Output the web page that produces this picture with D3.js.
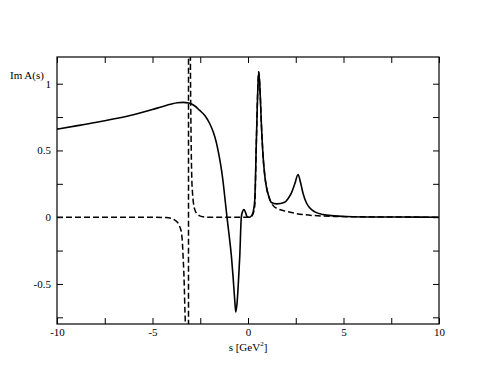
<!DOCTYPE html>
<html>
<head>
<meta charset="utf-8">
<script src="https://cdn.jsdelivr.net/npm/d3@7"></script>
<style>
  body { margin: 0; background: #fff; }
  svg text { font-family: "Liberation Serif", "Times New Roman", Times, serif; font-size: 11px; fill: #000; }
</style>
</head>
<body>
<div id="chart"></div>
<script>
// solid curve: Im A(s)
const solidS = [-10, -9, -8, -7, -6, -5, -4.5, -4, -3.7, -3.4, -3.1, -2.8, -2.53, -2.25, -2.0, -1.8, -1.65, -1.5, -1.39, -1.3, -1.22, -1.1, -1.0, -0.87, -0.78, -0.70, -0.64, -0.57, -0.5, -0.43, -0.35, -0.28, -0.21, -0.14, -0.07, 0, 0.12, 0.25, 0.35, 0.44, 0.5, 0.56, 0.62, 0.7, 0.79, 0.88, 0.96, 1.1, 1.22, 1.5, 1.92, 2.1, 2.27, 2.45, 2.62, 2.75, 2.88, 3.05, 3.23, 3.5, 3.92, 4.5, 5.1, 6, 8, 10];
const solidV = [0.66, 0.684, 0.709, 0.737, 0.768, 0.806, 0.828, 0.848, 0.857, 0.86, 0.855, 0.835, 0.80, 0.76, 0.70, 0.63, 0.555, 0.45, 0.356, 0.26, 0.157, 0.0, -0.12, -0.29, -0.45, -0.61, -0.71, -0.64, -0.48, -0.29, 0.0, 0.045, 0.057, 0.04, 0.01, 0.0, 0.002, 0.03, 0.12, 0.58, 0.9, 1.09, 0.98, 0.7, 0.455, 0.31, 0.23, 0.15, 0.11, 0.1, 0.112, 0.14, 0.18, 0.25, 0.32, 0.26, 0.18, 0.11, 0.07, 0.04, 0.02, 0.01, 0.005, 0.002, 0.001, 0];

// dashed curve (pole near s = -3.1)
const dashS = [-10, -5, -4.3, -4.0, -3.8, -3.66, -3.55, -3.48, -3.43, -3.40, -3.35, -3.31, -3.27, -3.12, -3.11, -3.02, -2.98, -2.95, -2.90, -2.85, -2.78, -2.70, -2.55, -2.35, -2.0, 0, 0.15, 0.25, 0.35, 0.44, 0.5, 0.56, 0.62, 0.7, 0.79, 0.88, 0.96, 1.1, 1.3, 1.6, 2.0, 2.5, 3.0, 3.5, 4.5, 6, 8, 10];
const dashV = [0, 0, -0.003, -0.01, -0.025, -0.045, -0.08, -0.12, -0.2, -0.29, -0.45, -0.66, -0.9, -6, 6, 1.3, 0.6, 0.33, 0.17, 0.1, 0.055, 0.03, 0.012, 0.003, 0, 0, 0.002, 0.02, 0.08, 0.58, 0.9, 1.09, 0.98, 0.7, 0.455, 0.31, 0.23, 0.15, 0.09, 0.06, 0.045, 0.028, 0.018, 0.012, 0.006, 0.003, 0.001, 0];

const xMajor = [-10, -5, 0, 5, 10];
const xMinor = [-7.5, -2.5, 2.5, 7.5];
const yMajor = [-0.5, 0, 0.5, 1];
const yMinor = [-0.75, -0.25, 0.25, 0.75];

const W = 494, H = 382;
const margin = {top: 57, right: 55, bottom: 58, left: 57};
const width = W - margin.left - margin.right;
const height = H - margin.top - margin.bottom;
const serif = "'Liberation Serif', 'Times New Roman', Times, serif";

const svg = d3.select("#chart").append("svg")
    .attr("width", W)
    .attr("height", H);

const g = svg.append("g")
    .attr("transform", "translate(" + margin.left + "," + margin.top + ")");

const x = d3.scaleLinear().domain([-10, 10]).range([0, width]);
const y = d3.scaleLinear().domain([-0.8, 1.2]).range([height, 0]);

g.append("defs").append("clipPath")
    .attr("id", "clip")
  .append("rect")
    .attr("width", width)
    .attr("height", height);

const line = d3.line()
    .x(d => x(d[0]))
    .y(d => y(d[1]))
    .curve(d3.curveMonotoneX);

const solid = solidS.map((s, i) => [s, solidV[i]]);
const dashed = dashS.map((s, i) => [s, dashV[i]]);

g.append("path")
    .datum(dashed)
    .attr("clip-path", "url(#clip)")
    .attr("fill", "none")
    .attr("stroke", "#000")
    .attr("stroke-width", 1.5)
    .attr("stroke-dasharray", "6,3")
    .attr("d", line);

g.append("path")
    .datum(solid)
    .attr("clip-path", "url(#clip)")
    .attr("fill", "none")
    .attr("stroke", "#000")
    .attr("stroke-width", 1.6)
    .attr("d", line);

// axes with inward ticks on all four sides
function ticks(axis, vals, size) {
    return axis.tickValues(vals).tickSizeInner(-size).tickSizeOuter(0);
}

g.append("g").attr("transform", "translate(0," + height + ")")
    .call(ticks(d3.axisBottom(x), xMajor, 6).tickFormat(d => String(d)).tickPadding(4));
g.append("g").attr("transform", "translate(0," + height + ")")
    .call(ticks(d3.axisBottom(x), xMinor, 6).tickFormat(""));
g.append("g").call(ticks(d3.axisTop(x), xMajor.concat(xMinor), 6).tickFormat(""));

g.append("g").call(ticks(d3.axisLeft(y), yMajor, 6).tickFormat(d => String(d)).tickPadding(6));
g.append("g").call(ticks(d3.axisLeft(y), yMinor, 6).tickFormat(""));
g.append("g").attr("transform", "translate(" + width + ",0)")
    .call(ticks(d3.axisRight(y), yMajor.concat(yMinor), 6).tickFormat(""));

g.selectAll(".domain").remove();
g.selectAll(".tick line").attr("stroke", "#000");
g.selectAll("g").attr("font-family", serif).attr("font-size", 11);
g.selectAll(".tick text")
    .attr("font-family", serif)
    .style("font-family", serif)
    .style("font-size", "11px");

g.append("rect")
    .attr("width", width)
    .attr("height", height)
    .attr("fill", "none")
    .attr("stroke", "#000")
    .attr("stroke-width", 1.2);

svg.append("text")
    .attr("x", 10)
    .attr("y", 79)
    .style("font-family", serif)
    .text("Im A(s)");

const xl = svg.append("text")
    .attr("x", margin.left + width / 2)
    .attr("y", 351)
    .attr("text-anchor", "middle")
    .style("font-family", serif);
xl.append("tspan").text("s [GeV");
xl.append("tspan").attr("dy", -5).style("font-size", "7px").text("2");
xl.append("tspan").attr("dy", 5).text("]");
</script>
</body>
</html>
